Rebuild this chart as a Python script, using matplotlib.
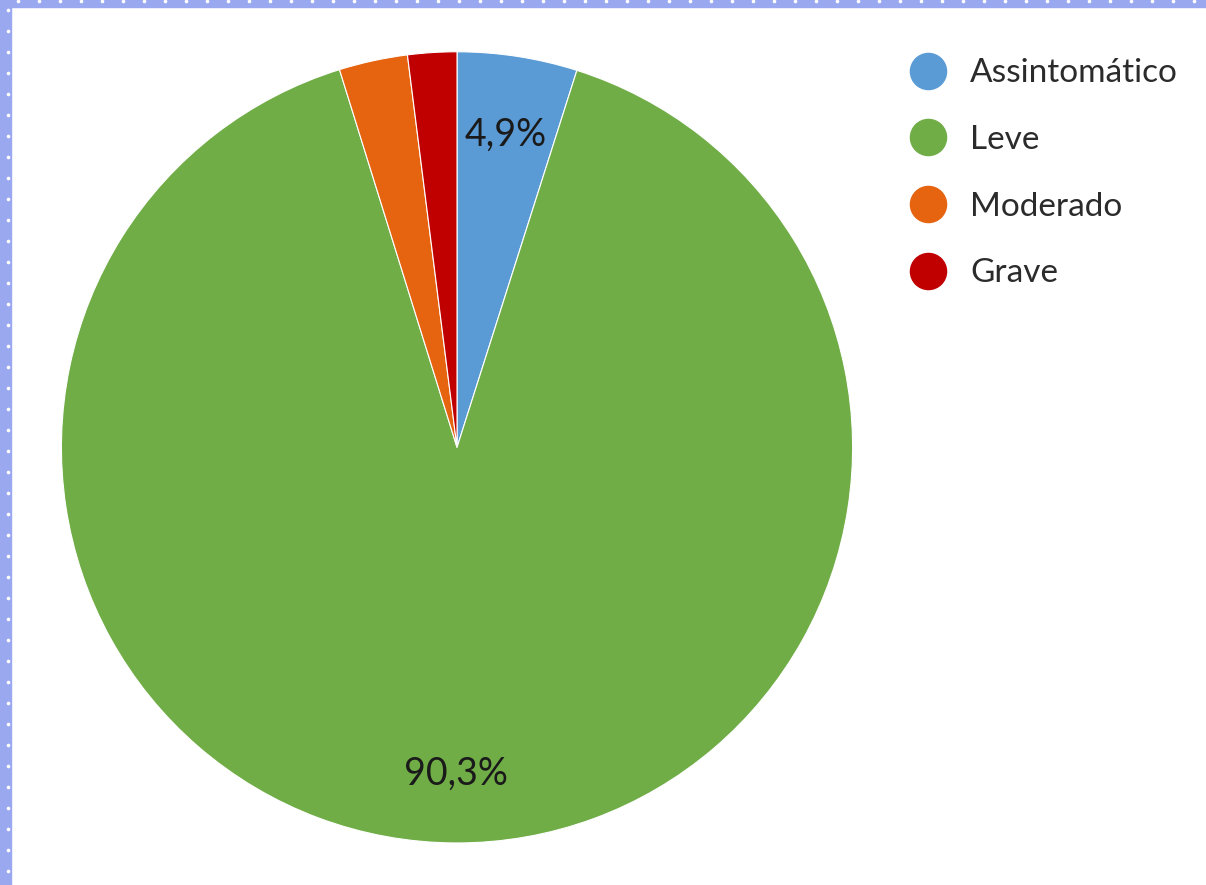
import matplotlib.pyplot as plt
from matplotlib.lines import Line2D
from matplotlib.patches import Rectangle
import numpy as np

plt.rcParams['font.family'] = ['Lato', 'DejaVu Sans']

categories = ['Assintomático', 'Leve', 'Moderado', 'Grave']
values = [4.9, 90.3, 2.8, 2.0]
colors = ['#5B9BD5', '#70AD47', '#E6630F', '#C00000']
shown = ['4,9%', '90,3%', '', '']

fig = plt.figure(figsize=(12.06, 8.85), dpi=100)

# frame strips on top and left
fig.patches.append(Rectangle((0, 1 - 7 / 885), 1, 7 / 885, transform=fig.transFigure,
                             color='#9AA8F0', zorder=0))
fig.patches.append(Rectangle((0, 0), 11 / 1206, 1, transform=fig.transFigure,
                             color='#9AA8F0', zorder=0))
dots_x = [x / 1206 for x in range(18, 1206, 21)]
fig.lines.append(Line2D(dots_x, [1 - 1 / 885] * len(dots_x), transform=fig.transFigure,
                        ls='None', marker='o', ms=1.6, color='white'))
dots_y = [1 - y / 885 for y in range(10, 885, 21)]
fig.lines.append(Line2D([8 / 1206] * len(dots_y), dots_y, transform=fig.transFigure,
                        ls='None', marker='o', ms=1.6, color='white'))

ax = fig.add_axes([0.0506, 0.0475, 0.6567, 0.894])
wedges, texts = ax.pie(values, colors=colors, startangle=90, counterclock=False,
                       wedgeprops=dict(edgecolor='white', linewidth=0.8))
ax.set_xlim(-1, 1)
ax.set_ylim(-1, 1)

# percentage labels
dist = [0.80, 0.825, 0, 0]
for w, lab, d in zip(wedges, shown, dist):
    if not lab:
        continue
    ang = np.deg2rad((w.theta1 + w.theta2) / 2)
    ax.text(d * np.cos(ang), d * np.sin(ang), lab, ha='center', va='center',
            fontsize=27, color='#1a1a1a')

handles = [Line2D([], [], ls='None', marker='o', ms=26, color=c) for c in colors]
fig.legend(handles, categories, loc='upper left', bbox_to_anchor=(0.731, 0.968),
           frameon=False, fontsize=24, labelspacing=1.1, handletextpad=0.75,
           handlelength=1.0, labelcolor='#2b2b2b')

fig.savefig('out.png', dpi=100)
